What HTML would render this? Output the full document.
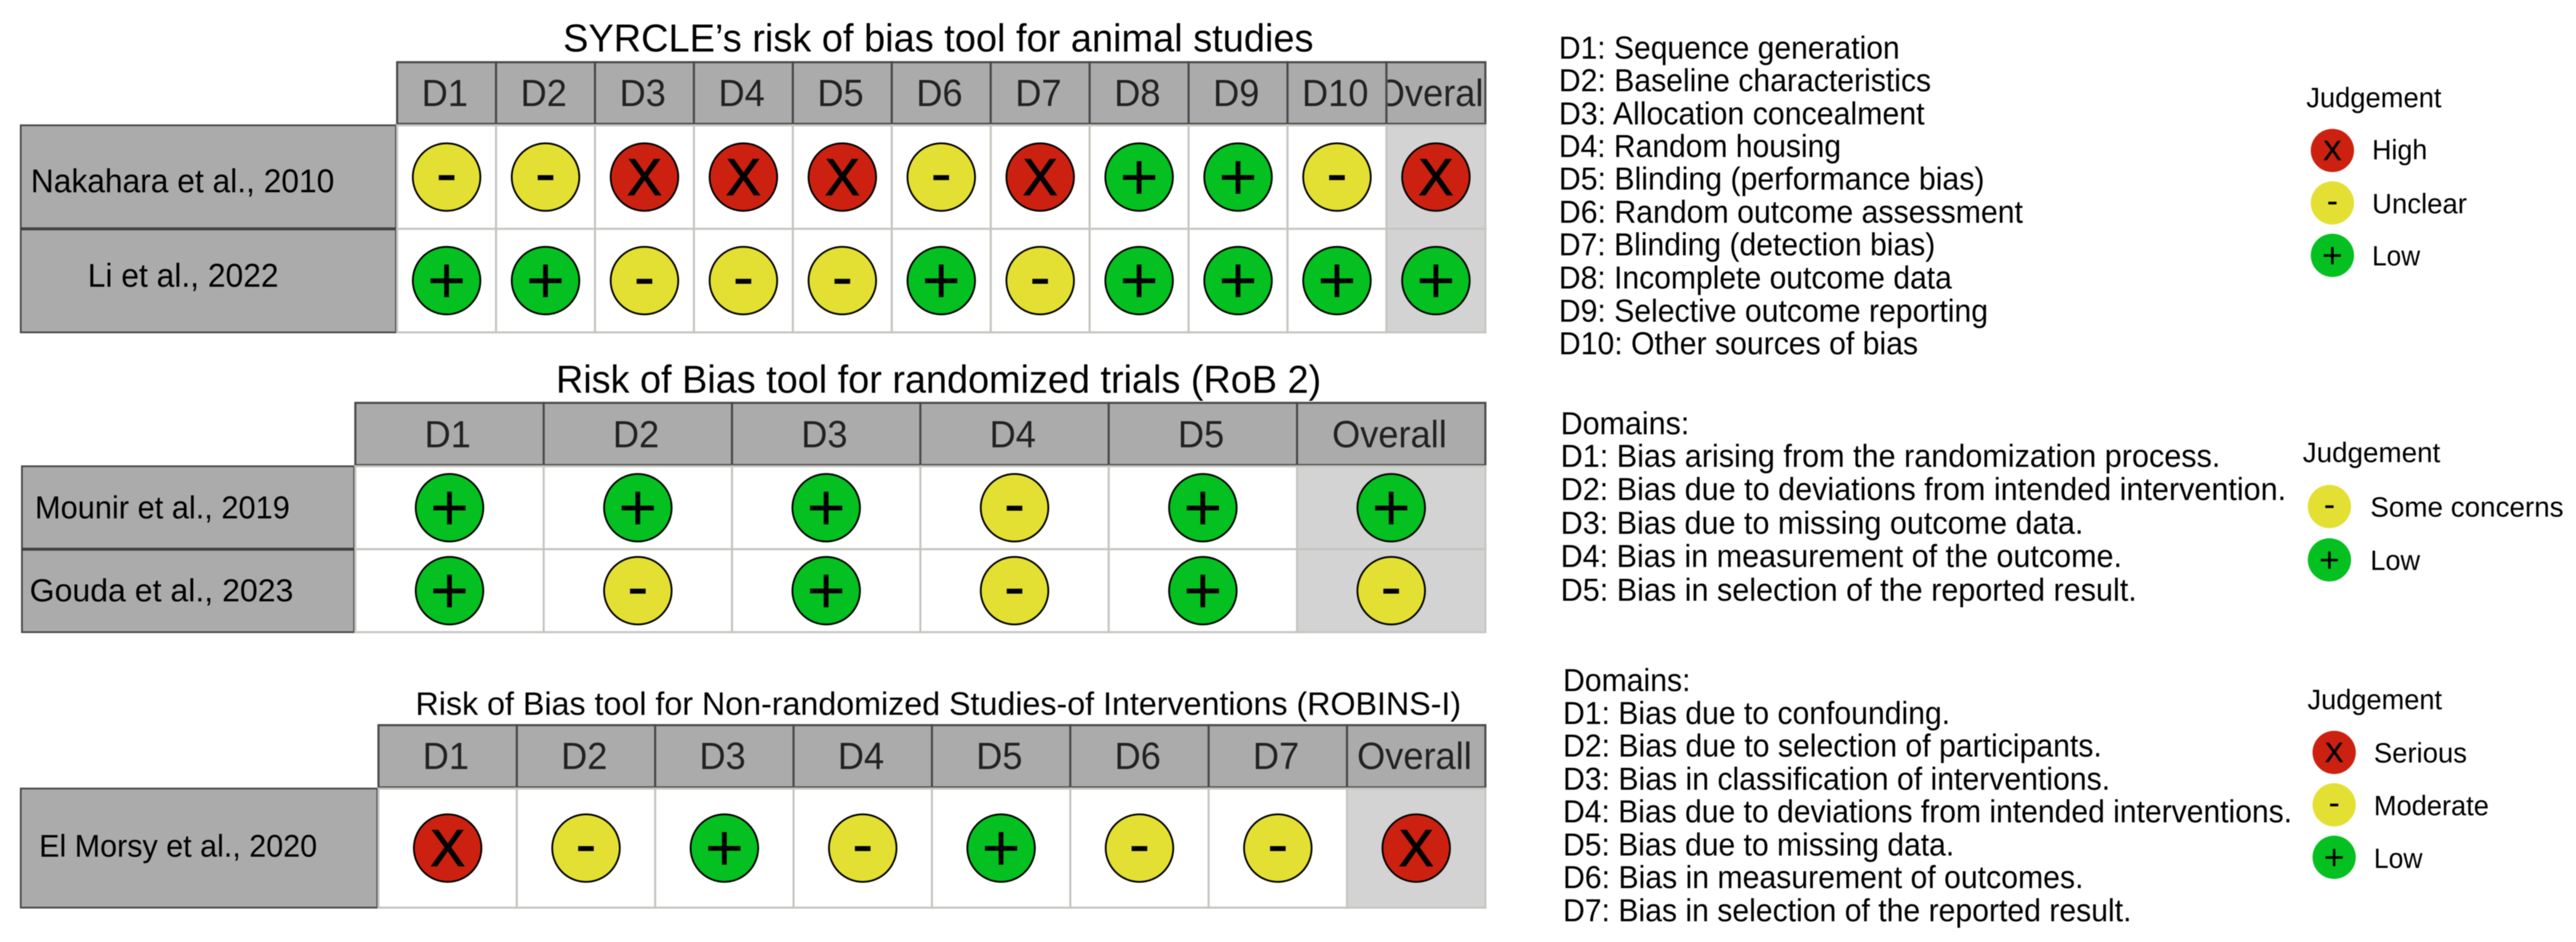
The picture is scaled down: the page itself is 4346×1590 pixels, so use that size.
<!DOCTYPE html>
<html lang="en">
<head>
<meta charset="utf-8">
<title>Risk of bias summary</title>
<style>
html,body{margin:0;padding:0;background:#fff;width:4346px;height:1590px;overflow:hidden}
svg{display:block;filter:blur(0.9px)}
text{font-family:"Liberation Sans",Arial,sans-serif;fill:#000}
.title{font-size:65.5px}
.list{font-size:53.5px}
.leg{font-size:47px}
</style>
</head>
<body>
<svg id="chart" xmlns="http://www.w3.org/2000/svg" width="4346" height="1590" viewBox="0 0 4346 1590">
  <rect x="0" y="0" width="4346" height="1590" fill="#ffffff"/>

  <text class="title" x="950" y="87" textLength="1266" lengthAdjust="spacingAndGlyphs">SYRCLE’s risk of bias tool for animal studies</text>
  <text class="title" x="938" y="663" textLength="1291" lengthAdjust="spacingAndGlyphs">Risk of Bias tool for randomized trials (RoB 2)</text>
  <text class="title" style="font-size:55px" x="701" y="1206.5" textLength="1764" lengthAdjust="spacingAndGlyphs">Risk of Bias tool for Non-randomized Studies-of Interventions (ROBINS-I)</text>

  <g id="tables"></g>

  <g>
    <text class="list" x="2630" y="99" textLength="575" lengthAdjust="spacingAndGlyphs">D1: Sequence generation</text>
    <text class="list" x="2630" y="154" textLength="628" lengthAdjust="spacingAndGlyphs">D2: Baseline characteristics</text>
    <text class="list" x="2630" y="210" textLength="617" lengthAdjust="spacingAndGlyphs">D3: Allocation concealment</text>
    <text class="list" x="2630" y="265" textLength="476" lengthAdjust="spacingAndGlyphs">D4: Random housing</text>
    <text class="list" x="2630" y="320" textLength="718" lengthAdjust="spacingAndGlyphs">D5: Blinding (performance bias)</text>
    <text class="list" x="2630" y="376" textLength="783" lengthAdjust="spacingAndGlyphs">D6: Random outcome assessment</text>
    <text class="list" x="2630" y="431" textLength="635" lengthAdjust="spacingAndGlyphs">D7: Blinding (detection bias)</text>
    <text class="list" x="2630" y="487" textLength="663" lengthAdjust="spacingAndGlyphs">D8: Incomplete outcome data</text>
    <text class="list" x="2630" y="543" textLength="724" lengthAdjust="spacingAndGlyphs">D9: Selective outcome reporting</text>
    <text class="list" x="2630" y="598" textLength="606" lengthAdjust="spacingAndGlyphs">D10: Other sources of bias</text>
  </g>

  <g>
    <text class="list" x="2633" y="733" textLength="217" lengthAdjust="spacingAndGlyphs">Domains:</text>
    <text class="list" x="2633" y="788" textLength="1113" lengthAdjust="spacingAndGlyphs">D1: Bias arising from the randomization process.</text>
    <text class="list" x="2633" y="844" textLength="1224" lengthAdjust="spacingAndGlyphs">D2: Bias due to deviations from intended intervention.</text>
    <text class="list" x="2633" y="901" textLength="882" lengthAdjust="spacingAndGlyphs">D3: Bias due to missing outcome data.</text>
    <text class="list" x="2633" y="957" textLength="947" lengthAdjust="spacingAndGlyphs">D4: Bias in measurement of the outcome.</text>
    <text class="list" x="2633" y="1014" textLength="972" lengthAdjust="spacingAndGlyphs">D5: Bias in selection of the reported result.</text>
  </g>

  <g>
    <text class="list" x="2637" y="1166.5" textLength="215" lengthAdjust="spacingAndGlyphs">Domains:</text>
    <text class="list" x="2637" y="1222" textLength="653" lengthAdjust="spacingAndGlyphs">D1: Bias due to confounding.</text>
    <text class="list" x="2637" y="1277" textLength="909" lengthAdjust="spacingAndGlyphs">D2: Bias due to selection of participants.</text>
    <text class="list" x="2637" y="1333" textLength="923" lengthAdjust="spacingAndGlyphs">D3: Bias in classification of interventions.</text>
    <text class="list" x="2637" y="1388" textLength="1230" lengthAdjust="spacingAndGlyphs">D4: Bias due to deviations from intended interventions.</text>
    <text class="list" x="2637" y="1444" textLength="660" lengthAdjust="spacingAndGlyphs">D5: Bias due to missing data.</text>
    <text class="list" x="2637" y="1499" textLength="878" lengthAdjust="spacingAndGlyphs">D6: Bias in measurement of outcomes.</text>
    <text class="list" x="2637" y="1555" textLength="959" lengthAdjust="spacingAndGlyphs">D7: Bias in selection of the reported result.</text>
  </g>

  <g id="legends">
    <text class="leg" x="3891" y="181" textLength="228" lengthAdjust="spacingAndGlyphs">Judgement</text>
    <text class="leg" x="4002" y="269" textLength="93" lengthAdjust="spacingAndGlyphs">High</text>
    <text class="leg" x="4002" y="360" textLength="160" lengthAdjust="spacingAndGlyphs">Unclear</text>
    <text class="leg" x="4002" y="448" textLength="81" lengthAdjust="spacingAndGlyphs">Low</text>

    <text class="leg" x="3885" y="780" textLength="232" lengthAdjust="spacingAndGlyphs">Judgement</text>
    <text class="leg" x="3999" y="872" textLength="326" lengthAdjust="spacingAndGlyphs">Some concerns</text>
    <text class="leg" x="3999" y="962" textLength="84" lengthAdjust="spacingAndGlyphs">Low</text>

    <text class="leg" x="3893" y="1197" textLength="227" lengthAdjust="spacingAndGlyphs">Judgement</text>
    <text class="leg" x="4005" y="1287" textLength="157" lengthAdjust="spacingAndGlyphs">Serious</text>
    <text class="leg" x="4005" y="1376" textLength="194" lengthAdjust="spacingAndGlyphs">Moderate</text>
    <text class="leg" x="4005" y="1465" textLength="82" lengthAdjust="spacingAndGlyphs">Low</text>
  </g>
</svg>

<script>
// ---- chart data ----
const syrcleDomains = ["D1","D2","D3","D4","D5","D6","D7","D8","D9","D10","Overall"];
const syrcleStudies = ["Nakahara et al., 2010","Li et al., 2022"];
const syrcleJudgements = [
  ["-","-","X","X","X","-","X","+","+","-","X"],
  ["+","+","-","-","-","+","-","+","+","+","+"]
];

const rob2Domains = ["D1","D2","D3","D4","D5","Overall"];
const rob2Studies = ["Mounir et al., 2019","Gouda et al., 2023"];
const rob2Judgements = [
  ["+","+","+","-","+","+"],
  ["+","-","+","-","+","-"]
];

const robinsDomains = ["D1","D2","D3","D4","D5","D6","D7","Overall"];
const robinsStudies = ["El Morsy et al., 2020"];
const robinsJudgements = [
  ["X","-","+","-","+","-","-","X"]
];

const syrcleLegend = ["X","-","+"];
const rob2Legend = ["-","+"];
const robinsLegend = ["X","-","+"];

// ---- styling / layout ----
const judgementColors = {"X":"#cc2110","-":"#e3e033","+":"#04c020"};
const judgementNames = {"X":"high","-":"unclear","+":"low"};
const SVGNS = "http://www.w3.org/2000/svg";
const tables = document.getElementById("tables");
const legends = document.getElementById("legends");

function make(tag, parent, attrs, content){
  const n = document.createElementNS(SVGNS, tag);
  for (const k in attrs) n.setAttribute(k, attrs[k]);
  if (content !== undefined) n.textContent = content;
  parent.appendChild(n);
  return n;
}

function drawGlyph(parent, symbol, cx, cy, scale){
  let size, base;
  if (symbol === "X") { size = 87 * scale; base = cy + 30 * scale; }
  else if (symbol === "+") { size = 112 * scale; base = cy + 0.34 * size; }
  else { size = 108 * scale; base = cy + 0.275 * size; }
  const t = make("text", parent, {x:cx, y:base, "text-anchor":"middle", "font-size":size}, symbol);
  if (symbol === "X") {
    t.setAttribute("stroke", "#000");
    t.setAttribute("stroke-width", 1.8 * scale);
  }
  
  
}

function drawPanel(p){
  const g = make("g", tables, {});
  
  

  const nCols = p.domains.length;
  const nRows = p.studies.length;
  const colW = (p.right - p.left) / nCols;
  const rowH = (p.bodyBottom - p.bodyTop) / nRows;
  const xBand = i => p.left + i * colW;
  const xMid = i => p.left + (i + 0.5) * colW;
  const yBand = r => p.bodyTop + r * rowH;
  const yMid = r => p.bodyTop + (r + 0.5) * rowH;

  // header cells
  p.domains.forEach((d, i) => {
    const cell = make("rect", g, {x:xBand(i), y:p.headTop, width:colW, height:p.headBottom - p.headTop, fill:"#ababab", stroke:"#484848", "stroke-width":3.5});
    
    
    const clipId = p.key + "-clip-" + i;
    const clip = make("clipPath", g, {id:clipId});
    make("rect", clip, {x:xBand(i) + 2, y:p.headTop, width:colW - 4, height:p.headBottom - p.headTop});
    const label = make("text", g, {x:xMid(i) - 3, y:p.headBase, "text-anchor":"middle", "font-size":64, style:"fill:#222", "clip-path":"url(#" + clipId + ")"}, d);
    label.setAttribute("lengthAdjust", "spacingAndGlyphs");
    label.setAttribute("textLength", label.getComputedTextLength() * 0.955);
    
    
  });

  // rows
  p.studies.forEach((s, r) => {
    const box = make("rect", g, {x:p.labelLeft, y:yBand(r), width:p.left - p.labelLeft - 2, height:rowH, fill:"#ababab", stroke:"#4a4a4a", "stroke-width":3});
    
    
    if (r > 0) {
      const sep = make("line", g, {x1:p.labelLeft, x2:p.left - 2, y1:yBand(r), y2:yBand(r), stroke:"#404040", "stroke-width":5});
      
      
    }
    const lab = make("text", g, {x:p.labelX[r], y:p.labelBase[r], "font-size":p.labelFont, textLength:p.labelWidth[r], lengthAdjust:"spacingAndGlyphs"}, s);
    
    

    p.domains.forEach((d, i) => {
      const overall = i === nCols - 1;
      const c = make("rect", g, {x:xBand(i), y:yBand(r), width:colW, height:rowH, fill: overall ? "#d3d3d3" : "#ffffff", stroke:"#c4c6c0", "stroke-width":3.5});
      
      
    });
  });

  // judgement marks
  p.judgements.forEach((row, r) => {
    row.forEach((symbol, i) => {
      const mark = make("circle", g, {cx:xMid(i), cy:yMid(r), r:57, fill:judgementColors[symbol], stroke:"#000", "stroke-width":3});
      
      
      drawGlyph(g, symbol, xMid(i), yMid(r), 1);
    });
  });
}

function drawLegend(symbols, cx, top, step, key){
  symbols.forEach((symbol, i) => {
    const cy = top + i * step;
    const key_mark = make("circle", legends, {cx:cx, cy:cy, r:36.5, fill:judgementColors[symbol]});
    
    
    drawGlyph(legends, symbol, cx, cy, 0.53);
  });
}

drawPanel({key:"syrcle", domains:syrcleDomains, studies:syrcleStudies, judgements:syrcleJudgements,
  left:670, right:2506, headTop:105, headBottom:209, headBase:179, bodyTop:211.5, bodyBottom:561,
  labelLeft:35, labelFont:56, labelX:[52,148], labelWidth:[512,322], labelBase:[324.5,484]});
drawPanel({key:"rob2", domains:rob2Domains, studies:rob2Studies, judgements:rob2Judgements,
  left:599.5, right:2506, headTop:680, headBottom:785, headBase:755, bodyTop:787, bodyBottom:1067,
  labelLeft:37, labelFont:54, labelX:[59,50], labelWidth:[430,445], labelBase:[875,1015]});
drawPanel({key:"robins", domains:robinsDomains, studies:robinsStudies, judgements:robinsJudgements,
  left:638.5, right:2506, headTop:1224, headBottom:1329, headBase:1298, bodyTop:1331, bodyBottom:1532,
  labelLeft:35, labelFont:52.5, labelX:[66], labelWidth:[469], labelBase:[1446]});

drawLegend(syrcleLegend, 3935, 254, 88.5, "syrcle");
drawLegend(rob2Legend, 3930, 855, 90, "rob2");
drawLegend(robinsLegend, 3938, 1270, 88.5, "robins");
</script>
</body>
</html>
